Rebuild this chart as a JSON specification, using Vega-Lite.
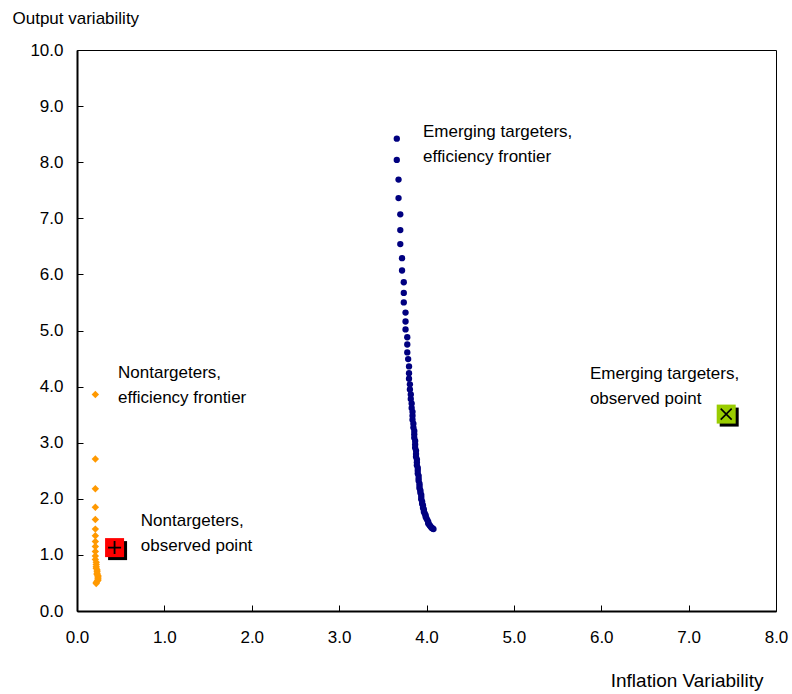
{
  "$schema": "https://vega.github.io/schema/vega-lite/v6.json",
  "width": 699,
  "height": 561,
  "autosize": "none",
  "padding": {"left": 77, "top": 50, "right": 16, "bottom": 83},
  "background": "white",
  "config": {
    "font": "Liberation Sans",
    "view": {"stroke": "black", "strokeWidth": 1},
    "axis": {
      "grid": false,
      "domainColor": "black",
      "domainWidth": 2,
      "tickColor": "black",
      "tickWidth": 1,
      "tickSize": -6,
      "labelFlush": false,
      "labelOverlap": false,
      "labelFont": "Liberation Sans",
      "labelFontSize": 17,
      "labelColor": "black",
      "titleFont": "Liberation Sans",
      "titleFontSize": 17,
      "titleFontWeight": "normal",
      "titleColor": "black"
    }
  },
  "datasets": {
    "nontargeters_frontier": [
      {"inflation": 0.21, "output": 3.86},
      {"inflation": 0.21, "output": 2.71},
      {"inflation": 0.21, "output": 2.18},
      {"inflation": 0.21, "output": 1.85},
      {"inflation": 0.21, "output": 1.63},
      {"inflation": 0.21, "output": 1.46},
      {"inflation": 0.21, "output": 1.34},
      {"inflation": 0.21, "output": 1.24},
      {"inflation": 0.21, "output": 1.15},
      {"inflation": 0.21, "output": 1.06},
      {"inflation": 0.21, "output": 0.98},
      {"inflation": 0.21, "output": 0.92},
      {"inflation": 0.22, "output": 0.87},
      {"inflation": 0.22, "output": 0.83},
      {"inflation": 0.22, "output": 0.79},
      {"inflation": 0.22, "output": 0.76},
      {"inflation": 0.23, "output": 0.73},
      {"inflation": 0.23, "output": 0.70},
      {"inflation": 0.23, "output": 0.67},
      {"inflation": 0.23, "output": 0.65},
      {"inflation": 0.24, "output": 0.63},
      {"inflation": 0.24, "output": 0.61},
      {"inflation": 0.24, "output": 0.59},
      {"inflation": 0.24, "output": 0.57},
      {"inflation": 0.24, "output": 0.55},
      {"inflation": 0.23, "output": 0.53},
      {"inflation": 0.22, "output": 0.51},
      {"inflation": 0.22, "output": 0.49}
    ],
    "emerging_frontier": [
      {"inflation": 3.66, "output": 8.42},
      {"inflation": 3.66, "output": 8.04},
      {"inflation": 3.68, "output": 7.69},
      {"inflation": 3.68, "output": 7.36},
      {"inflation": 3.70, "output": 7.07},
      {"inflation": 3.70, "output": 6.79},
      {"inflation": 3.70, "output": 6.54},
      {"inflation": 3.72, "output": 6.29},
      {"inflation": 3.72, "output": 6.07},
      {"inflation": 3.74, "output": 5.86},
      {"inflation": 3.74, "output": 5.67},
      {"inflation": 3.74, "output": 5.50},
      {"inflation": 3.76, "output": 5.32},
      {"inflation": 3.76, "output": 5.16},
      {"inflation": 3.76, "output": 5.02},
      {"inflation": 3.78, "output": 4.88},
      {"inflation": 3.78, "output": 4.75},
      {"inflation": 3.78, "output": 4.61},
      {"inflation": 3.79, "output": 4.49},
      {"inflation": 3.80, "output": 4.36},
      {"inflation": 3.80, "output": 4.24},
      {"inflation": 3.80, "output": 4.14},
      {"inflation": 3.81, "output": 4.04},
      {"inflation": 3.81, "output": 3.95},
      {"inflation": 3.82, "output": 3.86},
      {"inflation": 3.82, "output": 3.78},
      {"inflation": 3.83, "output": 3.70},
      {"inflation": 3.83, "output": 3.62},
      {"inflation": 3.84, "output": 3.55},
      {"inflation": 3.84, "output": 3.48},
      {"inflation": 3.84, "output": 3.41},
      {"inflation": 3.85, "output": 3.34},
      {"inflation": 3.85, "output": 3.27},
      {"inflation": 3.86, "output": 3.21},
      {"inflation": 3.86, "output": 3.15},
      {"inflation": 3.86, "output": 3.09},
      {"inflation": 3.87, "output": 3.03},
      {"inflation": 3.87, "output": 2.97},
      {"inflation": 3.87, "output": 2.91},
      {"inflation": 3.88, "output": 2.86},
      {"inflation": 3.88, "output": 2.80},
      {"inflation": 3.88, "output": 2.75},
      {"inflation": 3.89, "output": 2.70},
      {"inflation": 3.89, "output": 2.65},
      {"inflation": 3.89, "output": 2.60},
      {"inflation": 3.90, "output": 2.55},
      {"inflation": 3.90, "output": 2.50},
      {"inflation": 3.90, "output": 2.45},
      {"inflation": 3.91, "output": 2.41},
      {"inflation": 3.91, "output": 2.36},
      {"inflation": 3.91, "output": 2.32},
      {"inflation": 3.92, "output": 2.27},
      {"inflation": 3.92, "output": 2.23},
      {"inflation": 3.92, "output": 2.19},
      {"inflation": 3.93, "output": 2.15},
      {"inflation": 3.93, "output": 2.11},
      {"inflation": 3.94, "output": 2.07},
      {"inflation": 3.94, "output": 2.03},
      {"inflation": 3.94, "output": 1.99},
      {"inflation": 3.95, "output": 1.95},
      {"inflation": 3.95, "output": 1.91},
      {"inflation": 3.96, "output": 1.88},
      {"inflation": 3.96, "output": 1.84},
      {"inflation": 3.97, "output": 1.81},
      {"inflation": 3.97, "output": 1.77},
      {"inflation": 3.98, "output": 1.74},
      {"inflation": 3.99, "output": 1.71},
      {"inflation": 3.99, "output": 1.68},
      {"inflation": 4.00, "output": 1.65},
      {"inflation": 4.01, "output": 1.62},
      {"inflation": 4.02, "output": 1.59},
      {"inflation": 4.02, "output": 1.56},
      {"inflation": 4.03, "output": 1.54},
      {"inflation": 4.04, "output": 1.52},
      {"inflation": 4.05, "output": 1.50},
      {"inflation": 4.06, "output": 1.48},
      {"inflation": 4.07, "output": 1.47},
      {"inflation": 4.08, "output": 1.46}
    ],
    "nontargeters_observed": [{"inflation": 0.43, "output": 1.13}],
    "emerging_observed": [{"inflation": 7.43, "output": 3.51}],
    "labels": [
      {"inflation": 3.96, "output": 8.45, "text": "Emerging targeters,"},
      {"inflation": 3.96, "output": 8.00, "text": "efficiency frontier"},
      {"inflation": 5.87, "output": 4.14, "text": "Emerging targeters,"},
      {"inflation": 5.87, "output": 3.69, "text": "observed point"},
      {"inflation": 0.47, "output": 4.15, "text": "Nontargeters,"},
      {"inflation": 0.47, "output": 3.71, "text": "efficiency frontier"},
      {"inflation": 0.73, "output": 1.52, "text": "Nontargeters,"},
      {"inflation": 0.73, "output": 1.07, "text": "observed point"}
    ]
  },
  "encoding": {
    "x": {
      "field": "inflation",
      "type": "quantitative",
      "scale": {"domain": [0, 8], "nice": false, "zero": false},
      "axis": {
        "values": [0, 1, 2, 3, 4, 5, 6, 7, 8],
        "format": ".1f",
        "labelPadding": 24,
        "title": "Inflation Variability",
        "titleFontSize": 19,
        "titleAnchor": "start",
        "titleAlign": "right",
        "titleBaseline": "alphabetic",
        "titleX": 686,
        "titleY": 75
      }
    },
    "y": {
      "field": "output",
      "type": "quantitative",
      "scale": {"domain": [0, 10], "nice": false, "zero": false},
      "axis": {
        "values": [0, 1, 2, 3, 4, 5, 6, 7, 8, 9, 10],
        "format": ".1f",
        "labelPadding": 20,
        "title": "Output variability",
        "titleAngle": 0,
        "titleAlign": "left",
        "titleAnchor": "start",
        "titleBaseline": "alphabetic",
        "titleX": -65,
        "titleY": -27
      }
    }
  },
  "layer": [
    {
      "data": {"name": "nontargeters_frontier"},
      "mark": {"type": "point", "shape": "diamond", "filled": true, "size": 55, "color": "#FF9900", "opacity": 1}
    },
    {
      "data": {"name": "emerging_frontier"},
      "mark": {"type": "point", "shape": "circle", "filled": true, "size": 40, "color": "#000080", "opacity": 1}
    },
    {
      "data": {"name": "nontargeters_observed"},
      "mark": {"type": "point", "shape": "square", "filled": true, "size": 361, "color": "black", "opacity": 1, "xOffset": 3, "yOffset": 3}
    },
    {
      "data": {"name": "nontargeters_observed"},
      "mark": {"type": "point", "shape": "square", "filled": true, "size": 361, "color": "#FF0000", "opacity": 1}
    },
    {
      "data": {"name": "nontargeters_observed"},
      "mark": {"type": "point", "shape": "M-1,0L1,0M0,-1L0,1", "filled": false, "size": 169, "stroke": "black", "strokeWidth": 1.8, "opacity": 1}
    },
    {
      "data": {"name": "emerging_observed"},
      "mark": {"type": "point", "shape": "square", "filled": true, "size": 361, "color": "black", "opacity": 1, "xOffset": 3, "yOffset": 3}
    },
    {
      "data": {"name": "emerging_observed"},
      "mark": {"type": "point", "shape": "square", "filled": true, "size": 361, "color": "#99CC00", "opacity": 1}
    },
    {
      "data": {"name": "emerging_observed"},
      "mark": {"type": "point", "shape": "M-1,-1L1,1M-1,1L1,-1", "filled": false, "size": 120, "stroke": "black", "strokeWidth": 1.6, "opacity": 1}
    },
    {
      "data": {"name": "labels"},
      "mark": {"type": "text", "align": "left", "baseline": "alphabetic", "font": "Liberation Sans", "fontSize": 17, "color": "black"},
      "encoding": {"text": {"field": "text", "type": "nominal"}}
    }
  ]
}
